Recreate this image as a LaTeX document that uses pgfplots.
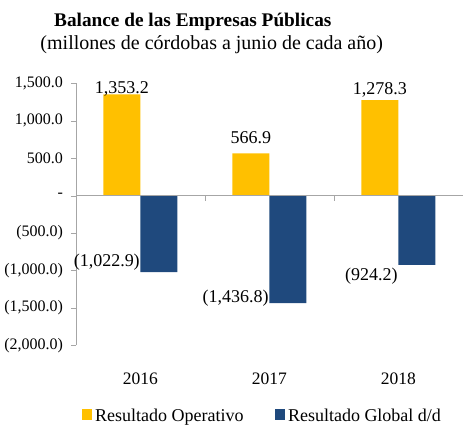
\documentclass[border=0pt]{standalone}
\usepackage{fontspec}
\setmainfont{Liberation Serif}
\usepackage{pgfplots}
\pgfplotsset{compat=1.18}
\definecolor{cyel}{HTML}{FFC000}
\definecolor{cblu}{HTML}{1F497D}
\definecolor{cax}{HTML}{A6A6A6}
\begin{document}
\begin{tikzpicture}
\begin{axis}[
  scale only axis, width=387pt, height=262pt,
  font=\fontsize{16}{19}\selectfont,
  ymin=-2000, ymax=1500,
  xmin=-0.5, xmax=2.5,
  ytick={-2000,-1500,...,1500},
  yticklabels={{(2,000.0)},{(1,500.0)},{(1,000.0)},{(500.0)},{-\hspace{11pt}},{500.0\hspace{3pt}},{1,000.0\hspace{3pt}},{1,500.0\hspace{3pt}}},
  xtick={0,1,2}, xticklabels={2016,2017,2018},
  axis y line=left, axis x line=bottom,
  x axis line style={draw=none},
  y axis line style={cax,-},
  tick align=outside,
  major tick length=5pt,
  major y tick style={cax},
  major x tick style={draw=none},
  xticklabel style={font=\fontsize{17.5}{20}\selectfont, anchor=base, yshift=-34.5pt},
  yticklabel style={xshift=-4.5pt},
  ybar=0pt, bar width=37pt,
  clip=false,
  legend style={at={(0.483,-0.268)}, anchor=center, draw=none, legend columns=2,
    font=\fontsize{18}{21}\selectfont,
    /tikz/every even column/.append style={column sep=28pt},
    nodes={inner xsep=3pt}},
  legend image code/.code={\fill[#1] (0pt,-4pt) rectangle (10.5pt,6.5pt);},
]
\addplot[fill=cyel, draw=none,
  visualization depends on={value \thisrow{dy}\as\dy},
  nodes near coords={\pgfmathprintnumber[fixed,fixed zerofill,precision=1,1000 sep={,},assume math mode=true]{\pgfplotspointmeta}},
  nodes near coords align={center},
  every node near coord/.append style={font=\fontsize{18}{21}\selectfont, anchor=base, inner sep=0pt, yshift=\dy pt}]
  table[row sep=\\] {x y dy\\ 0 1353.2 1\\ 1 566.9 10\\ 2 1278.3 6\\};
\addlegendentry{Resultado Operativo}
\addplot[fill=cblu, draw=none, point meta=explicit,
  visualization depends on={value \thisrow{dy}\as\dy},
  nodes near coords={(\pgfmathprintnumber[fixed,fixed zerofill,precision=1,1000 sep={,},assume math mode=true]{\pgfplotspointmeta})},
  nodes near coords align={center},
  every node near coord/.append style={font=\fontsize{18}{21}\selectfont, anchor=east, xshift=-19pt, inner sep=0pt, yshift=\dy pt}]
  table[row sep=\\, meta=m] {x y m dy\\ 0 -1022.9 1022.9 10\\ 1 -1436.8 1436.8 5\\ 2 -924.2 924.2 -11\\};
\addlegendentry{Resultado Global d/d}
\draw[cax] (axis cs:-0.5,0) -- (axis cs:2.5,0);
\draw[cax] (axis cs:0.5,0) -- ++(0pt,-5pt);
\draw[cax] (axis cs:1.5,0) -- ++(0pt,-5pt);
\node[font=\fontsize{19.3}{22}\selectfont\bfseries, anchor=base] at ([yshift=56.5pt]rel axis cs:0.302,1) {Balance de las Empresas Públicas};
\node[font=\fontsize{20}{23}\selectfont, anchor=base] at ([yshift=33.5pt]rel axis cs:0.351,1) {(millones de córdobas a junio de cada año)};
\end{axis}
\path (current axis.south west) ++(-76pt,-84.5pt) rectangle ++(463pt,430pt);
\end{tikzpicture}
\end{document}
